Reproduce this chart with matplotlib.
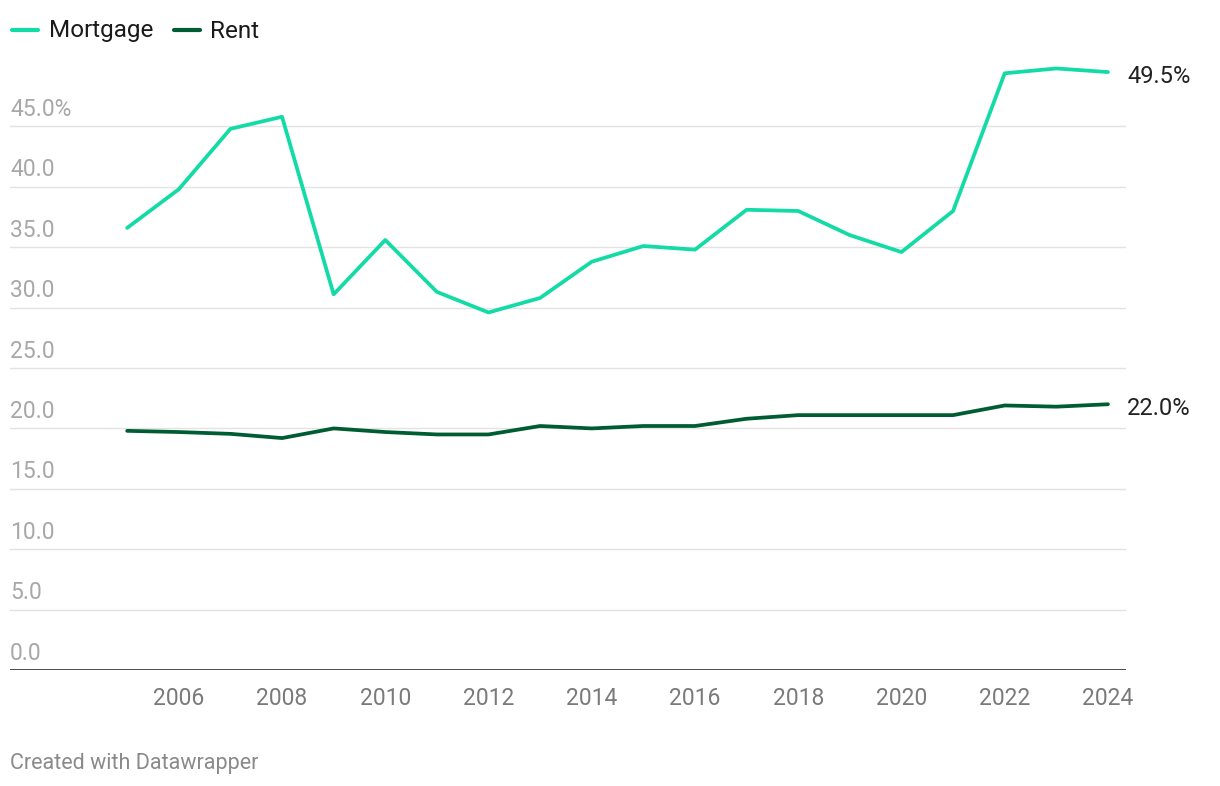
import matplotlib.pyplot as plt

plt.rcParams['font.family'] = ['Roboto', 'DejaVu Sans']

# Data
years = list(range(2005, 2025))
mortgage = [36.6, 39.8, 44.8, 45.8, 31.1, 35.6, 31.3, 29.6, 30.8, 33.8,
            35.1, 34.8, 38.1, 38.0, 36.0, 34.6, 38.0, 49.4, 49.8, 49.5]
rent = [19.8, 19.7, 19.55, 19.2, 20.0, 19.7, 19.5, 19.5, 20.2, 20.0,
        20.2, 20.2, 20.8, 21.1, 21.1, 21.1, 21.1, 21.9, 21.8, 22.0]
yticks = [0, 5, 10, 15, 20, 25, 30, 35, 40, 45]
ytick_labels = ['0.0', '5.0', '10.0', '15.0', '20.0', '25.0', '30.0', '35.0', '40.0', '45.0%']
xticks = list(range(2006, 2025, 2))

mort_color = '#13dba6'
rent_color = '#005c33'

fig = plt.figure(figsize=(12.2, 7.86), dpi=100)
ax = fig.add_axes([10/1220, 116/786, 1116/1220, 610/786])

ax.plot(years, mortgage, color=mort_color, lw=2.7, solid_capstyle='round', zorder=3)
ax.plot(years, rent, color=rent_color, lw=2.7, solid_capstyle='round', zorder=3)

ax.set_xlim(2002.73, 2024.35)
ax.set_ylim(0, 50.5)

# gridlines
for t in yticks[1:]:
    ax.axhline(t, color='#e3e3e3', lw=1, zorder=1)
ax.axhline(0, color='#1a1a1a', lw=1.8, zorder=4)

for s in ax.spines.values():
    s.set_visible(False)
ax.set_yticks([])
ax.set_xticks(xticks)
ax.set_xticklabels([str(x) for x in xticks], color='#7a7a7a', fontsize=16.5)
ax.tick_params(axis='x', length=0, pad=12)

# y labels sit above the gridlines
for t, lab in zip(yticks, ytick_labels):
    ax.text(2002.73, t + 0.45, lab, color='#a8a8a8', fontsize=16.5,
            ha='left', va='bottom')

# end labels
ax.text(1.001, mortgage[-1] - 0.35, '%.1f%%' % mortgage[-1], transform=ax.get_yaxis_transform(),
        fontsize=17, color='#222222', va='center', ha='left')
ax.text(1.001, rent[-1] - 0.35, '%.1f%%' % rent[-1], transform=ax.get_yaxis_transform(),
        fontsize=17, color='#222222', va='center', ha='left')

# legend
ly = 1 - 31/786
fig.lines.append(plt.Line2D([12/1220, 38/1220], [1 - 30/786, 1 - 30/786], color=mort_color,
                            lw=3, solid_capstyle='round', transform=fig.transFigure))
fig.text(49/1220, ly, 'Mortgage', fontsize=17.5, color='#1a1a1a', va='center')
fig.lines.append(plt.Line2D([174/1220, 200/1220], [1 - 30/786, 1 - 30/786], color=rent_color,
                            lw=3, solid_capstyle='round', transform=fig.transFigure))
fig.text(210/1220, ly, 'Rent', fontsize=17.5, color='#1a1a1a', va='center')

fig.text(10/1220, 1 - 763/786, 'Created with Datawrapper', fontsize=15.5, color='#8a8a8a', va='center')

fig.savefig('out.png', dpi=100, facecolor='white')
